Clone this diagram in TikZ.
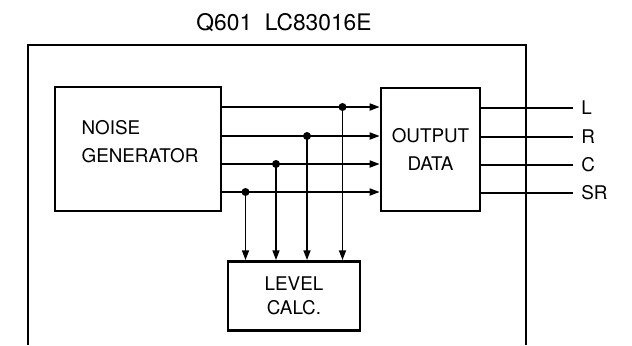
\documentclass[tikz,border=0pt]{standalone}
\usepackage{fontspec}
\setmainfont{TeX Gyre Heros}
\usetikzlibrary{arrows.meta}

\begin{document}
\begin{tikzpicture}[x=0.025cm, y=-0.025cm]
    % Kiểu vẽ cho khung, khối và đường tín hiệu
    \tikzset{
        c_frame/.style={line width=1.6pt},
        c_box/.style={draw, line width=2pt, inner sep=0pt, align=center, font=\fontsize{13.4}{20}\selectfont},
        c_text/.style={inner sep=0pt, align=left, font=\fontsize{13.4}{20}\selectfont},
        c_sig/.style={line width=1.1pt},
        c_arrow/.style={c_sig, -{Triangle[length=7pt, width=5pt]}},
        c_lab/.style={anchor=west, inner xsep=0.2cm, font=\fontsize{13.4}{15}\selectfont}
    }
    \useasboundingbox (0,0) rectangle (632,345);

    % Tiêu đề IC
    \node[font=\fontsize{16.2}{18}\selectfont] (title) at (284,22.5) {Q601~~LC83016E};

    % Khung IC (hở phía dưới)
    \draw[c_frame] (28,345) -- (28,45) -- (526,45) -- (526,345);

    % Các khối chức năng
    \node[c_box, minimum width=4.15cm, minimum height=3.1cm] (noise) at (138,149) {};
    \node[c_text] (noisetxt) at (140,142) {NOISE\\GENERATOR};
    \node[c_box, minimum width=2.475cm, minimum height=3.075cm] (output) at (430.5,149.5) {OUTPUT\\DATA};
    \node[c_box, font=\fontsize{13.4}{17}\selectfont, minimum width=3.3cm, minimum height=1.725cm] (level) at (294,296) {LEVEL\\CALC.};

    % Điểm rẽ nhánh trên các đường tín hiệu
    \foreach \n/\x/\y in {1/342.5/107, 2/307/136, 3/276/164, 4/245.5/192}
        \coordinate (j\n) at (\x,\y);

    % Tín hiệu vào OUTPUT DATA và LEVEL CALC.
    \foreach \n in {1,...,4} {
        \draw[c_arrow] (j\n -| noise.east) -- (j\n -| output.west);
        \draw[c_arrow] (j\n) -- (j\n |- level.north);
    }

    % Chấm nối
    \foreach \p in {j1,j2,j3,j4} {
        \fill (\p) circle (0.1cm);
    }

    % Ngõ ra L, R, C, SR
    \foreach \n/\t/\y in {1/L/108, 2/R/137, 3/C/165, 4/SR/193} {
        \node[c_lab] (out\n) at (573,\y) {\t};
        \draw[c_sig] (out\n.west -| output.east) -- (out\n.west);
    }
\end{tikzpicture}
\end{document}
